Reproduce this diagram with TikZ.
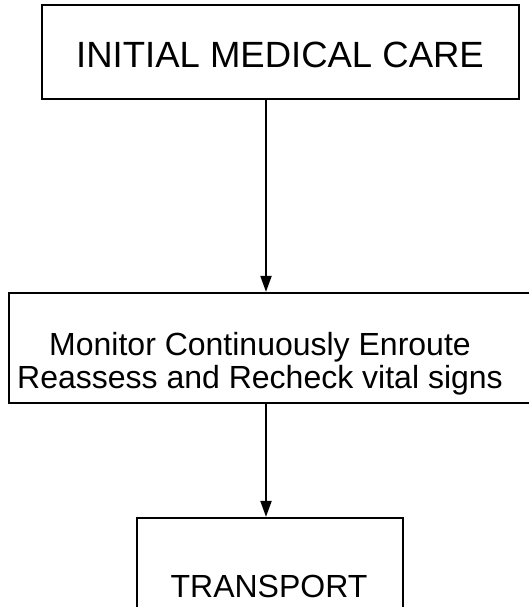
\documentclass[tikz,border=0pt]{standalone}
\usepackage{fontspec}
\setmainfont{Liberation Sans}
\usetikzlibrary{arrows.meta}
\begin{document}
\begin{tikzpicture}[x=1bp,y=-1bp,
  stagebox/.style={draw=black,line width=2.2bp,rectangle,inner sep=0pt},
  flow/.style={line width=2bp,-{Triangle[width=11bp,length=16bp]}},
  bigtext/.style={inner sep=0pt,anchor=base,font=\fontsize{36.5bp}{40bp}\selectfont},
  steptext/.style={inner sep=0pt,anchor=base,font=\fontsize{32bp}{34bp}\selectfont}]
  \useasboundingbox (0,0) rectangle (529,607);
  \clip (0,0) rectangle (529,607);
  % stage boxes
  \node[stagebox,minimum width=477bp,minimum height=94bp] (care) at (280.5,52) {};
  \node[stagebox,minimum width=551bp,minimum height=110bp] (monitor) at (284.5,348) {};
  \node[stagebox,minimum width=266bp,minimum height=140bp] (transport) at (270,588) {};
  % labels
  \node[bigtext] (careText) at (280,68) {INITIAL MEDICAL CARE};
  \node[steptext] (monitorTextA) at (260,355) {Monitor Continuously Enroute};
  \node[steptext] (monitorTextB) at (260,388) {Reassess and Recheck vital signs};
  \node[steptext] (transportText) at (269,597) {TRANSPORT};
  % connectors
  \coordinate (axis) at (266,0);
  \draw[flow] (care.south -| axis) -- (monitor.north -| axis);
  \draw[flow] (monitor.south -| axis) -- (transport.north -| axis);
\end{tikzpicture}
\end{document}
